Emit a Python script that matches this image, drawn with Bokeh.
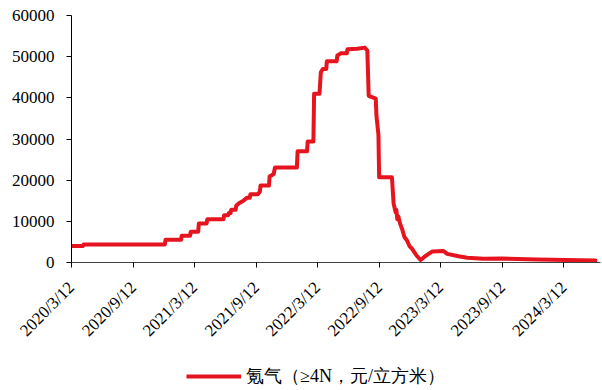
import math
from datetime import datetime, timezone
from bokeh.plotting import figure
from bokeh.layouts import column
from bokeh.models import (Range1d, FixedTicker, Legend, LegendItem, ColumnDataSource)
from bokeh.embed import file_html
from bokeh.resources import INLINE

# ---- data ----
series_name = "氪气（≥4N，元/立方米）"

dates = [
    "2020-03-12", "2020-04-15", "2020-04-17", "2020-12-14", "2020-12-16",
    "2021-01-31", "2021-02-02", "2021-02-27", "2021-03-01", "2021-03-23",
    "2021-03-25", "2021-04-17", "2021-04-19", "2021-06-06", "2021-06-08",
    "2021-06-20", "2021-06-22", "2021-06-27", "2021-06-29", "2021-07-12",
    "2021-07-14", "2021-07-22", "2021-08-04", "2021-08-14", "2021-08-23",
    "2021-08-25", "2021-09-16", "2021-09-22", "2021-09-24", "2021-10-19",
    "2021-10-21", "2021-11-02", "2021-11-06", "2022-01-10", "2022-01-12",
    "2022-02-09", "2022-02-11", "2022-02-28", "2022-03-02", "2022-03-18",
    "2022-03-22", "2022-03-28", "2022-04-07", "2022-04-09", "2022-05-08",
    "2022-05-10", "2022-05-20", "2022-06-07", "2022-06-09", "2022-07-08",
    "2022-07-30", "2022-08-07", "2022-08-11", "2022-09-01", "2022-09-03",
    "2022-09-09", "2022-09-11", "2022-10-19", "2022-10-24", "2022-10-30",
    "2022-11-01", "2022-11-04", "2022-11-07", "2022-11-12", "2022-11-18",
    "2022-11-25", "2022-12-03", "2022-12-10", "2022-12-18", "2022-12-31",
    "2023-01-12", "2023-01-27", "2023-02-16", "2023-03-21", "2023-04-01",
    "2023-05-05", "2023-05-30", "2023-07-18", "2023-09-11", "2023-12-24",
    "2024-06-14",
]
prices = [
    4000, 4000, 4400, 4400, 5500,
    5500, 6500, 6500, 7500, 7500,
    9500, 9500, 10500, 10500, 11500,
    11500, 12000, 12000, 12800, 12800,
    13800, 14400, 15000, 15700, 15700,
    16600, 16600, 17200, 18700, 18700,
    20900, 21500, 23100, 23100, 27000,
    27000, 29400, 29400, 41000, 41000,
    46200, 47000, 47000, 48900, 48900,
    50300, 50800, 50800, 51800, 51900,
    52200, 51500, 40500, 39800, 35700,
    31000, 20700, 20700, 14300, 12200,
    12800, 10500, 11200, 9500, 8200,
    6200, 5300, 4000, 3300, 1700,
    600, 1600, 2700, 2800, 2100,
    1500, 1150, 900, 950, 700,
    500,
]

tick_labels = ["2020/3/12", "2020/9/12", "2021/3/12", "2021/9/12", "2022/3/12",
               "2022/9/12", "2023/3/12", "2023/9/12", "2024/3/12"]
y_ticks = [0, 10000, 20000, 30000, 40000, 50000, 60000]
x_start = "2020-03-12"
x_end = "2024-06-29"


def to_ms(s, fmt="%Y-%m-%d"):
    d = datetime.strptime(s, fmt).replace(tzinfo=timezone.utc)
    return int(d.timestamp() * 1000)


xs = [to_ms(d) for d in dates]
tick_ms = [to_ms(t, "%Y/%m/%d") for t in tick_labels]

RED = "#E5141F"
SERIF = "Liberation Serif"

p = figure(width=602, height=349, x_axis_type="datetime",
           output_backend="svg", toolbar_location=None,
           x_range=Range1d(to_ms(x_start), to_ms(x_end)),
           y_range=Range1d(0, 60000),
           min_border_left=71, min_border_right=2,
           min_border_top=15, min_border_bottom=80)
p.outline_line_color = None
p.xgrid.visible = False
p.ygrid.visible = False
p.background_fill_color = "white"
p.border_fill_color = "white"

src = ColumnDataSource(dict(x=xs, y=prices))
r = p.line("x", "y", source=src, line_color=RED, line_width=4,
           line_join="round", line_cap="round")

# y axis
ya = p.yaxis[0]
ya.ticker = FixedTicker(ticks=y_ticks)
ya.axis_line_color = "#000000"
ya.major_tick_line_color = "#000000"
ya.major_tick_out = 5
ya.major_tick_in = 0
ya.minor_tick_line_color = None
ya.major_label_standoff = 12
ya.major_label_text_font = SERIF
ya.major_label_text_font_size = "17px"
ya.major_label_text_color = "#000000"

# x axis
xa = p.xaxis[0]
xa.ticker = FixedTicker(ticks=tick_ms)
xa.major_label_overrides = {ms: lab for ms, lab in zip(tick_ms, tick_labels)}
xa.axis_line_color = "#404040"
xa.major_tick_line_color = "#000000"
xa.major_tick_out = 5
xa.major_tick_in = 0
xa.minor_tick_line_color = None
xa.major_label_orientation = math.pi / 4
xa.major_label_standoff = 17
xa.major_label_text_font = SERIF
xa.major_label_text_font_size = "17px"
xa.major_label_text_color = "#000000"

# ---- legend strip below the chart (series line kept outside its view) ----
lg = figure(width=602, height=41, output_backend="svg", toolbar_location=None,
            x_range=Range1d(0, 1), y_range=Range1d(0, 1),
            min_border_left=0, min_border_right=0,
            min_border_top=0, min_border_bottom=0,
            x_axis_location=None, y_axis_location=None)
lg.outline_line_color = None
lg.xgrid.visible = False
lg.ygrid.visible = False
lr = lg.line("x", "y", source=src, line_color=RED, line_width=4)
legend = Legend(items=[LegendItem(label=series_name, renderers=[lr])],
                location=(115, 2), orientation="horizontal",
                margin=0, padding=0, spacing=0,
                glyph_width=55, glyph_height=20, label_standoff=5,
                label_height=20,
                label_text_font=SERIF,
                label_text_font_size="18px", label_text_color="#000000",
                border_line_color=None, background_fill_alpha=0)
lg.add_layout(legend, "center")

layout = column(p, lg, spacing=0)
open("out.html", "w").write(file_html(layout, INLINE))
